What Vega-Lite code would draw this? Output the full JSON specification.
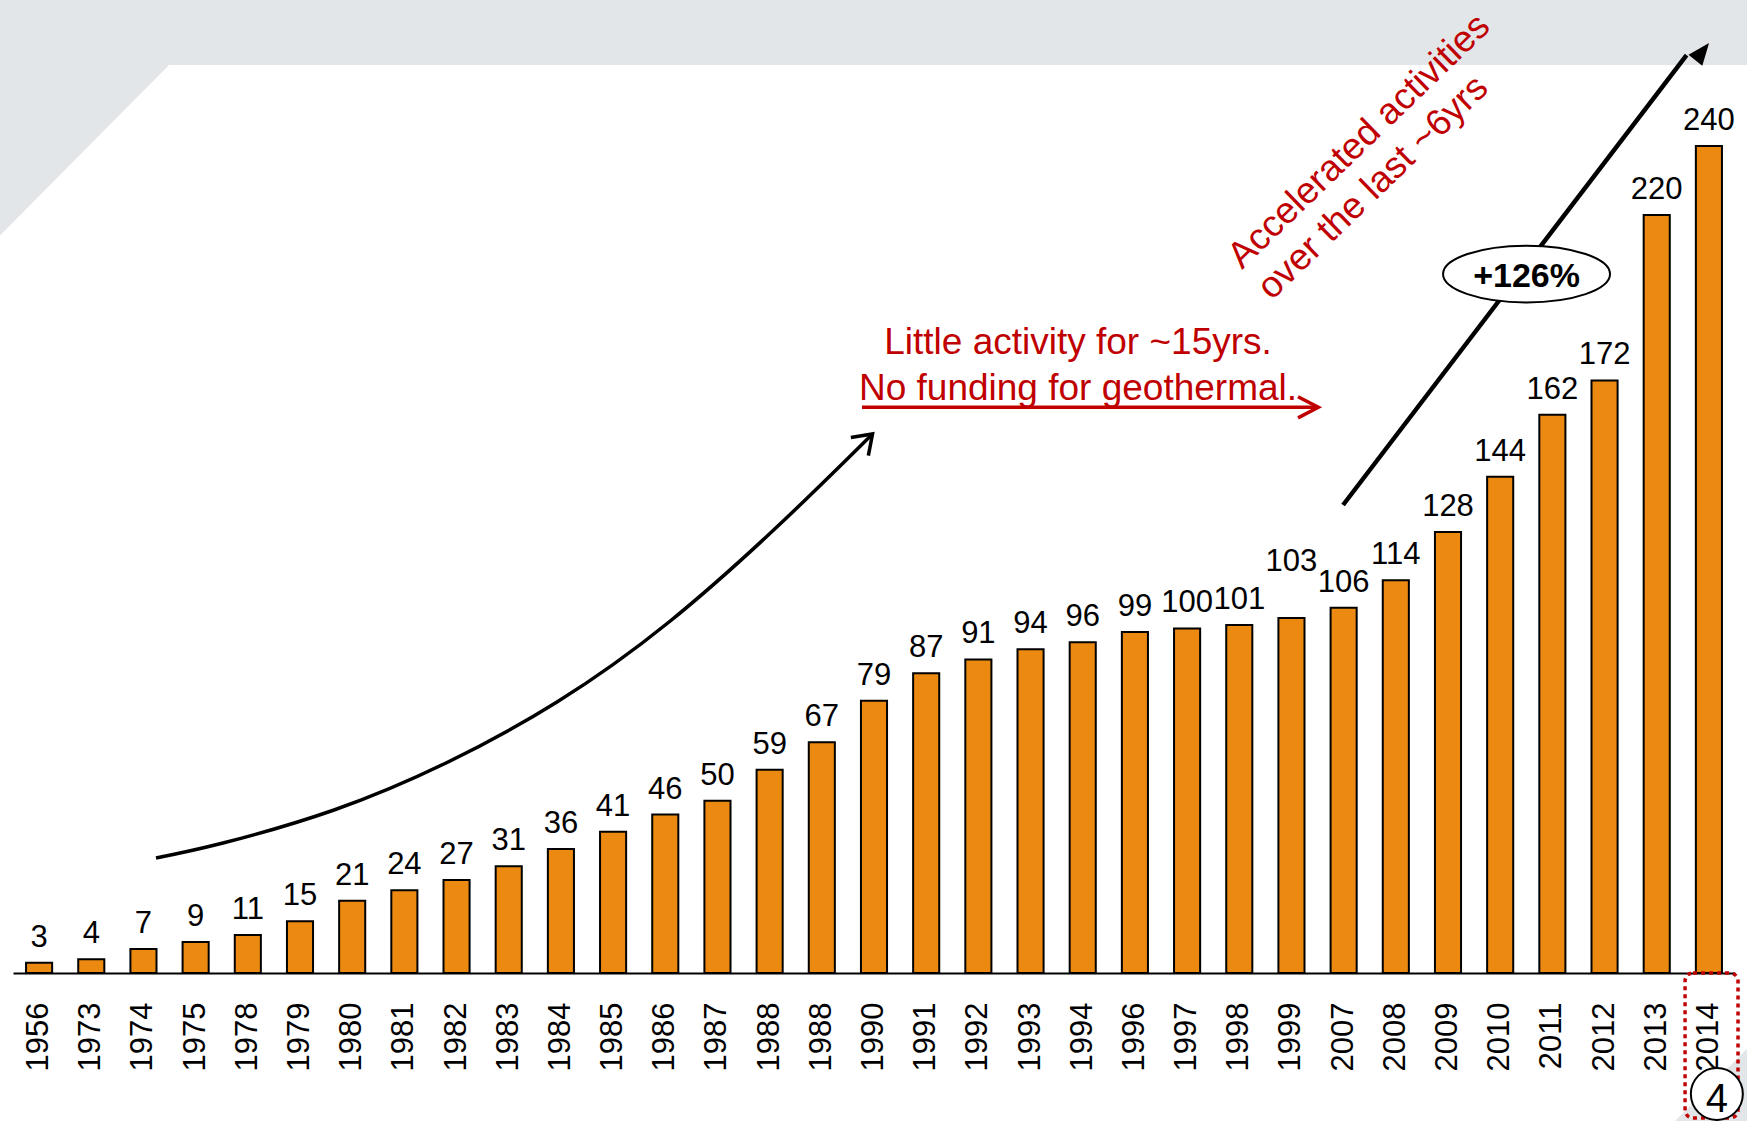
{
  "$schema": "https://vega.github.io/schema/vega-lite/v6.json",
  "width": 1722,
  "height": 973,
  "autosize": {"type": "none"},
  "padding": {"left": 13, "top": 0, "right": 12, "bottom": 148},
  "background": "white",
  "config": {"view": {"stroke": null}, "font": "Liberation Sans"},
  "datasets": {
    "bars": [
      {"key": "1956", "year": "1956", "value": 3},
      {"key": "1973", "year": "1973", "value": 4},
      {"key": "1974", "year": "1974", "value": 7},
      {"key": "1975", "year": "1975", "value": 9},
      {"key": "1978", "year": "1978", "value": 11},
      {"key": "1979", "year": "1979", "value": 15},
      {"key": "1980", "year": "1980", "value": 21},
      {"key": "1981", "year": "1981", "value": 24},
      {"key": "1982", "year": "1982", "value": 27},
      {"key": "1983", "year": "1983", "value": 31},
      {"key": "1984", "year": "1984", "value": 36},
      {"key": "1985", "year": "1985", "value": 41},
      {"key": "1986", "year": "1986", "value": 46},
      {"key": "1987", "year": "1987", "value": 50},
      {"key": "1988", "year": "1988", "value": 59},
      {"key": "1988b", "year": "1988", "value": 67},
      {"key": "1990", "year": "1990", "value": 79},
      {"key": "1991", "year": "1991", "value": 87},
      {"key": "1992", "year": "1992", "value": 91},
      {"key": "1993", "year": "1993", "value": 94},
      {"key": "1994", "year": "1994", "value": 96},
      {"key": "1996", "year": "1996", "value": 99},
      {"key": "1997", "year": "1997", "value": 100},
      {"key": "1998", "year": "1998", "value": 101},
      {"key": "1999", "year": "1999", "value": 103},
      {"key": "2007", "year": "2007", "value": 106},
      {"key": "2008", "year": "2008", "value": 114},
      {"key": "2009", "year": "2009", "value": 128},
      {"key": "2010", "year": "2010", "value": 144},
      {"key": "2011", "year": "2011", "value": 162},
      {"key": "2012", "year": "2012", "value": 172},
      {"key": "2013", "year": "2013", "value": 220},
      {"key": "2014", "year": "2014", "value": 240}
    ]
  },
  "resolve": {"scale": {"x": "independent"}, "axis": {"x": "independent"}},
  "layer": [
    {
      "data": {"values": [
        {"part": "top", "u": -0.76, "v": 213.9, "v2": 283},
        {"part": "top", "u": 2.49, "v": 263.5, "v2": 283},
        {"part": "top", "u": 32.8, "v": 263.5, "v2": 283},
        {"part": "corner", "u": 31.35, "v": -42.95, "v2": -44},
        {"part": "corner", "u": 32.8, "v": -20.9, "v2": -44}
      ]},
      "mark": {"type": "area", "color": "#E3E6E9", "orient": "vertical"},
      "encoding": {
        "x": {"field": "u", "type": "quantitative", "scale": {"domain": [-0.5, 32.5], "nice": false, "zero": false}, "axis": null},
        "y": {"field": "v", "type": "quantitative", "scale": {"domain": [0, 282.4], "nice": false, "zero": false}, "axis": null},
        "y2": {"field": "v2"},
        "detail": {"field": "part"}
      }
    },
    {
      "data": {"name": "bars"},
      "encoding": {
        "x": {
          "field": "key", "type": "nominal", "sort": null,
          "scale": {"paddingInner": 0.5, "paddingOuter": 0.25},
          "axis": {
            "title": null, "labelExpr": "slice(datum.label, 0, 4)", "labelAngle": 270,
            "labelFontSize": 31, "labelColor": "black", "labelPadding": 29, "ticks": false,
            "domainColor": "black", "domainWidth": 2, "labelFont": "Liberation Sans",
            "labelOverlap": false, "labelBound": false
          }
        },
        "y": {"field": "value", "type": "quantitative", "scale": {"domain": [0, 282.4], "nice": false}, "axis": null}
      },
      "layer": [
        {"mark": {"type": "bar", "fill": "#EB8911", "stroke": "black", "strokeWidth": 2}},
        {
          "transform": [{"filter": "datum.year != '1999'"}],
          "mark": {"type": "text", "dy": -16, "baseline": "alphabetic", "fontSize": 31, "color": "black", "font": "Liberation Sans"},
          "encoding": {"text": {"field": "value", "type": "quantitative"}}
        },
        {
          "transform": [{"filter": "datum.year == '1999'"}],
          "mark": {"type": "text", "dy": -47, "baseline": "alphabetic", "fontSize": 31, "color": "black", "font": "Liberation Sans"},
          "encoding": {"text": {"field": "value", "type": "quantitative"}}
        }
      ]
    },
    {
      "data": {"values": [
        {"u": 2.2405, "v": 33.38},
        {"u": 3.5245, "v": 37.73},
        {"u": 5.652, "v": 47.31},
        {"u": 7.798, "v": 60.95},
        {"u": 9.925, "v": 78.65},
        {"u": 12.072, "v": 101.87},
        {"u": 14.199, "v": 130.31},
        {"u": 15.972, "v": 156.44}
      ]},
      "mark": {"type": "line", "color": "black", "strokeWidth": 3.5, "interpolate": "natural"},
      "encoding": {
        "x": {"field": "u", "type": "quantitative", "scale": {"domain": [-0.5, 32.5], "nice": false, "zero": false}, "axis": null},
        "y": {"field": "v", "type": "quantitative", "scale": {"domain": [0, 282.4], "nice": false, "zero": false}, "axis": null}
      }
    },
    {
      "data": {"values": [{"u": 15.972, "v": 156.44}]},
      "mark": {"type": "point", "shape": "M-1,-0.7L0,0L-1,0.7", "size": 1296, "angle": 316, "filled": false, "stroke": "black", "strokeWidth": 3.5, "opacity": 1},
      "encoding": {
        "x": {"field": "u", "type": "quantitative", "scale": {"domain": [-0.5, 32.5], "nice": false, "zero": false}, "axis": null},
        "y": {"field": "v", "type": "quantitative", "scale": {"domain": [0, 282.4], "nice": false, "zero": false}, "axis": null}
      }
    },
    {
      "data": {"values": [{"u": 15.771, "v": 164.19}, {"u": 24.5, "v": 164.19}]},
      "mark": {"type": "line", "color": "#C00000", "strokeWidth": 3.5},
      "encoding": {
        "x": {"field": "u", "type": "quantitative", "scale": {"domain": [-0.5, 32.5], "nice": false, "zero": false}, "axis": null},
        "y": {"field": "v", "type": "quantitative", "scale": {"domain": [0, 282.4], "nice": false, "zero": false}, "axis": null}
      }
    },
    {
      "data": {"values": [{"u": 24.515, "v": 164.19}]},
      "mark": {"type": "point", "shape": "M-1,-0.52L0,0L-1,0.52", "size": 1648, "angle": 0, "filled": false, "stroke": "#C00000", "strokeWidth": 3.5, "opacity": 1},
      "encoding": {
        "x": {"field": "u", "type": "quantitative", "scale": {"domain": [-0.5, 32.5], "nice": false, "zero": false}, "axis": null},
        "y": {"field": "v", "type": "quantitative", "scale": {"domain": [0, 282.4], "nice": false, "zero": false}, "axis": null}
      }
    },
    {
      "data": {"values": [{"t": "Little activity for ~15yrs.\nNo funding for geothermal.", "u": 19.910, "v": 179.57}]},
      "mark": {"type": "text", "align": "center", "baseline": "alphabetic", "fontSize": 37, "lineHeight": 45.7, "lineBreak": "\n", "color": "#C00000", "font": "Liberation Sans"},
      "encoding": {
        "x": {"field": "u", "type": "quantitative", "scale": {"domain": [-0.5, 32.5], "nice": false, "zero": false}, "axis": null},
        "y": {"field": "v", "type": "quantitative", "scale": {"domain": [0, 282.4], "nice": false, "zero": false}, "axis": null},
        "text": {"field": "t"}
      }
    },
    {
      "data": {"values": [{"t": "Accelerated activities\nover the last ~6yrs", "u": 23.05, "v": 204.03}]},
      "mark": {"type": "text", "align": "left", "baseline": "alphabetic", "angle": 316, "fontSize": 37, "lineHeight": 43, "lineBreak": "\n", "color": "#C00000", "font": "Liberation Sans"},
      "encoding": {
        "x": {"field": "u", "type": "quantitative", "scale": {"domain": [-0.5, 32.5], "nice": false, "zero": false}, "axis": null},
        "y": {"field": "v", "type": "quantitative", "scale": {"domain": [0, 282.4], "nice": false, "zero": false}, "axis": null},
        "text": {"field": "t"}
      }
    },
    {
      "data": {"values": [{"u": 24.989, "v": 135.83}, {"u": 31.572, "v": 266.43}]},
      "mark": {"type": "line", "color": "black", "strokeWidth": 4.5},
      "encoding": {
        "x": {"field": "u", "type": "quantitative", "scale": {"domain": [-0.5, 32.5], "nice": false, "zero": false}, "axis": null},
        "y": {"field": "v", "type": "quantitative", "scale": {"domain": [0, 282.4], "nice": false, "zero": false}, "axis": null}
      }
    },
    {
      "data": {"values": [{"u": 32.003, "v": 269.92}]},
      "mark": {"type": "point", "shape": "M0,0L-2,-0.8L-2,0.8Z", "size": 484, "angle": 308.4, "filled": true, "fill": "black", "opacity": 1},
      "encoding": {
        "x": {"field": "u", "type": "quantitative", "scale": {"domain": [-0.5, 32.5], "nice": false, "zero": false}, "axis": null},
        "y": {"field": "v", "type": "quantitative", "scale": {"domain": [0, 282.4], "nice": false, "zero": false}, "axis": null}
      }
    },
    {
      "data": {"values": [{"u": 28.505, "v": 202.87}]},
      "mark": {"type": "point", "shape": "M-1,0C-1,-0.1878,-0.5523,-0.34,0,-0.34C0.5523,-0.34,1,-0.1878,1,0C1,0.1878,0.5523,0.34,0,0.34C-0.5523,0.34,-1,0.1878,-1,0Z", "size": 27889, "filled": true, "fill": "white", "stroke": "black", "strokeWidth": 2, "opacity": 1},
      "encoding": {
        "x": {"field": "u", "type": "quantitative", "scale": {"domain": [-0.5, 32.5], "nice": false, "zero": false}, "axis": null},
        "y": {"field": "v", "type": "quantitative", "scale": {"domain": [0, 282.4], "nice": false, "zero": false}, "axis": null}
      }
    },
    {
      "data": {"values": [{"t": "+126%", "u": 28.505, "v": 199.1}]},
      "mark": {"type": "text", "align": "center", "baseline": "alphabetic", "fontSize": 34, "fontWeight": "bold", "color": "black", "font": "Liberation Sans"},
      "encoding": {
        "x": {"field": "u", "type": "quantitative", "scale": {"domain": [-0.5, 32.5], "nice": false, "zero": false}, "axis": null},
        "y": {"field": "v", "type": "quantitative", "scale": {"domain": [0, 282.4], "nice": false, "zero": false}, "axis": null},
        "text": {"field": "t"}
      }
    },
    {
      "data": {"values": [{"u1": 31.543, "u2": 32.558, "v1": 0, "v2": -42.08}]},
      "mark": {"type": "rect", "fill": null, "fillOpacity": 0, "stroke": "#C00000", "strokeWidth": 3.5, "strokeDash": [4, 4], "cornerRadius": 8},
      "encoding": {
        "x": {"field": "u1", "type": "quantitative", "scale": {"domain": [-0.5, 32.5], "nice": false, "zero": false}, "axis": null},
        "x2": {"field": "u2"},
        "y": {"field": "v1", "type": "quantitative", "scale": {"domain": [0, 282.4], "nice": false, "zero": false}, "axis": null},
        "y2": {"field": "v2"}
      }
    },
    {
      "data": {"values": [{"u": 32.152, "v": -35.12}]},
      "mark": {"type": "point", "shape": "circle", "size": 2704, "filled": true, "fill": "white", "stroke": "black", "strokeWidth": 2, "opacity": 1},
      "encoding": {
        "x": {"field": "u", "type": "quantitative", "scale": {"domain": [-0.5, 32.5], "nice": false, "zero": false}, "axis": null},
        "y": {"field": "v", "type": "quantitative", "scale": {"domain": [0, 282.4], "nice": false, "zero": false}, "axis": null}
      }
    },
    {
      "data": {"values": [{"t": "4", "u": 32.152, "v": -40.26}]},
      "mark": {"type": "text", "align": "center", "baseline": "alphabetic", "fontSize": 40, "color": "black", "font": "Liberation Sans"},
      "encoding": {
        "x": {"field": "u", "type": "quantitative", "scale": {"domain": [-0.5, 32.5], "nice": false, "zero": false}, "axis": null},
        "y": {"field": "v", "type": "quantitative", "scale": {"domain": [0, 282.4], "nice": false, "zero": false}, "axis": null},
        "text": {"field": "t"}
      }
    }
  ]
}
